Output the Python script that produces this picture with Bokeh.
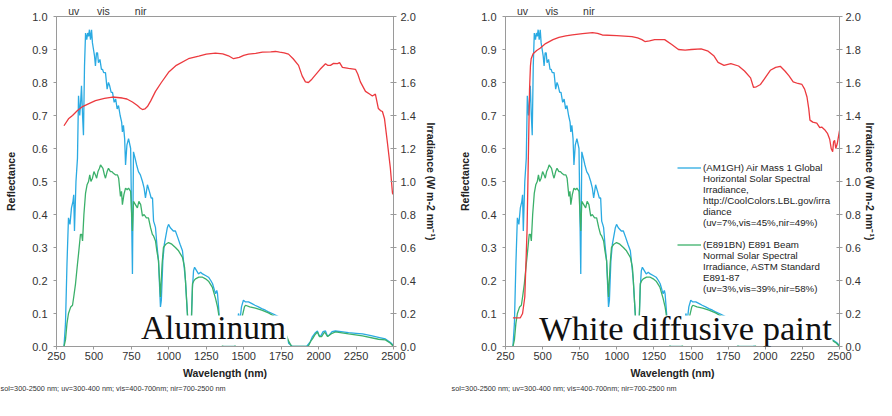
from bokeh.plotting import figure
from bokeh.models import (Range1d, LinearAxis, FixedTicker, Legend, LegendItem, Label,
                          BoxAnnotation, Title, NumeralTickFormatter)
from bokeh.layouts import row
from bokeh.embed import file_html
from bokeh.resources import INLINE

# ---------------- data ----------------
X_TICKS = [250, 500, 750, 1000, 1250, 1500, 1750, 2000, 2250, 2500]
REFL_TICKS = [0.0, 0.1, 0.2, 0.3, 0.4, 0.5, 0.6, 0.7, 0.8, 0.9, 1.0]
IRR_TICKS = [0.0, 0.2, 0.4, 0.6, 0.8, 1.0, 1.2, 1.4, 1.6, 1.8, 2.0]
BAND_POS = [365, 563, 812]
BAND_NAMES = ["uv", "vis", "nir"]

# AM1GH: Air Mass 1 Global Horizontal solar spectral irradiance (W m-2 nm-1)
AM1GH_WL = [300, 310, 320, 330, 340, 350, 360, 365, 370, 380, 390, 397, 405, 410, 417, 424, 430, 437,
            444, 452, 458, 464, 470, 477, 484, 490, 497, 504, 510, 517, 524, 530, 540, 550, 557, 565,
            577, 588, 597, 605, 615, 624, 635, 645, 655, 664, 675, 685, 690, 697, 705, 711, 720, 731,
            745, 757, 764, 775, 785, 797, 810, 824, 835, 844, 857, 870, 882, 891, 898, 905, 911, 920,
            931, 944, 950, 960, 970, 978, 990, 998, 1010, 1030, 1044, 1060, 1075, 1091, 1098, 1111,
            1120, 1130, 1140, 1150, 1158, 1165, 1172, 1185, 1198, 1212, 1225, 1245, 1265, 1280, 1292,
            1305, 1312, 1320, 1325, 1332, 1345, 1360, 1440, 1455, 1465, 1475, 1485, 1498, 1512, 1532,
            1555, 1575, 1598, 1620, 1645, 1665, 1690, 1712, 1735, 1759, 1779, 1800, 1825, 1920, 1945,
            1959, 1975, 1992, 2002, 2012, 2030, 2046, 2056, 2066, 2090, 2112, 2150, 2200, 2250, 2293,
            2350, 2400, 2446, 2480, 2500]
AM1GH_IRR = [0.0, 0.14, 0.50, 0.78, 0.74, 0.84, 0.88, 0.92, 0.70, 1.00, 1.14, 1.52, 1.40, 1.46, 1.58,
             1.40, 1.28, 1.70, 1.90, 1.86, 1.90, 1.88, 1.92, 1.86, 1.92, 1.84, 1.80, 1.76, 1.70, 1.78,
             1.78, 1.72, 1.74, 1.68, 1.68, 1.66, 1.66, 1.56, 1.60, 1.58, 1.54, 1.54, 1.48, 1.50, 1.44,
             1.46, 1.40, 1.36, 1.30, 1.34, 1.26, 1.10, 1.22, 1.26, 1.20, 0.44, 1.18, 1.14, 1.10, 1.06,
             1.04, 1.00, 0.96, 0.90, 0.98, 0.94, 0.90, 0.90, 0.76, 0.74, 0.72, 0.62, 0.52, 0.24, 0.28,
             0.52, 0.62, 0.66, 0.72, 0.74, 0.72, 0.70, 0.70, 0.66, 0.62, 0.58, 0.52, 0.40, 0.26, 0.12,
             0.04, 0.16, 0.36, 0.46, 0.48, 0.46, 0.44, 0.45, 0.44, 0.43, 0.42, 0.40, 0.38, 0.34, 0.32,
             0.34, 0.32, 0.24, 0.08, 0.0, 0.0, 0.10, 0.20, 0.16, 0.24, 0.28, 0.27, 0.27, 0.26, 0.25,
             0.24, 0.23, 0.22, 0.21, 0.20, 0.19, 0.18, 0.16, 0.08, 0.02, 0.0, 0.0, 0.03, 0.06, 0.08,
             0.094, 0.07, 0.06, 0.09, 0.094, 0.07, 0.064, 0.09, 0.094, 0.09, 0.084, 0.08, 0.076, 0.066,
             0.056, 0.046, 0.024, 0.006]

# E891BN: E891 Beam Normal solar spectral irradiance (W m-2 nm-1)
E891BN_WL = [300, 310, 320, 330, 345, 357, 365, 377, 390, 397, 410, 418, 424, 433, 444, 454, 464, 472,
             480, 490, 500, 510, 518, 527, 537, 544, 552, 560, 570, 577, 588, 597, 610, 620, 630, 645,
             657, 665, 677, 684, 690, 700, 711, 722, 731, 745, 757, 764, 777, 790, 800, 812, 824, 835,
             850, 864, 878, 890, 898, 911, 920, 931, 944, 955, 964, 980, 998, 1020, 1044, 1065, 1091,
             1105, 1111, 1120, 1130, 1140, 1150, 1158, 1168, 1178, 1200, 1225, 1245, 1265, 1290, 1312,
             1325, 1332, 1345, 1360, 1440, 1465, 1485, 1492, 1505, 1512, 1540, 1578, 1620, 1665, 1710,
             1759, 1780, 1799, 1820, 1930, 1950, 1959, 1975, 1992, 2005, 2020, 2040, 2060, 2090, 2112,
             2200, 2293, 2400, 2446, 2480, 2500]
E891BN_IRR = [0.0, 0.04, 0.14, 0.20, 0.24, 0.25, 0.30, 0.38, 0.50, 0.56, 0.68, 0.68, 0.64, 0.80, 0.93,
              0.98, 1.00, 1.04, 1.00, 1.02, 1.06, 1.04, 1.02, 1.06, 1.08, 1.10, 1.09, 1.08, 1.04, 1.02,
              1.06, 1.08, 1.06, 1.06, 1.05, 1.04, 1.04, 1.02, 0.91, 0.94, 0.86, 0.92, 0.96, 0.95, 0.96,
              0.94, 0.70, 0.88, 0.86, 0.84, 0.88, 0.86, 0.79, 0.80, 0.78, 0.78, 0.72, 0.68, 0.67, 0.64,
              0.58, 0.52, 0.30, 0.50, 0.60, 0.62, 0.63, 0.62, 0.60, 0.58, 0.54, 0.48, 0.40, 0.26, 0.10,
              0.04, 0.12, 0.38, 0.40, 0.41, 0.42, 0.42, 0.41, 0.396, 0.36, 0.29, 0.24, 0.20, 0.06, 0.0,
              0.0, 0.08, 0.14, 0.19, 0.24, 0.25, 0.24, 0.232, 0.22, 0.204, 0.18, 0.152, 0.08, 0.034,
              0.0, 0.0, 0.036, 0.046, 0.07, 0.088, 0.06, 0.06, 0.088, 0.06, 0.08, 0.088, 0.076, 0.064,
              0.044, 0.04, 0.02, 0.0]

# Reflectance of aluminum
ALU_WL = [300, 330, 357, 390, 424, 470, 510, 570, 624, 690, 720, 757, 790, 810, 824, 840, 857, 880,
          911, 950, 998, 1050, 1131, 1200, 1250, 1311, 1360, 1398, 1432, 1470, 1500, 1532, 1580, 1625,
          1680, 1712, 1740, 1770, 1799, 1830, 1866, 1890, 1912, 1932, 1955, 1979, 2010, 2046, 2060,
          2079, 2100, 2126, 2140, 2159, 2200, 2246, 2262, 2279, 2313, 2340, 2359, 2379, 2399, 2413,
          2426, 2440, 2459, 2479, 2493, 2500]
ALU_REFL = [0.669, 0.690, 0.700, 0.715, 0.727, 0.737, 0.745, 0.752, 0.756, 0.753, 0.750, 0.741, 0.730,
            0.722, 0.718, 0.720, 0.727, 0.745, 0.773, 0.800, 0.831, 0.852, 0.872, 0.880, 0.886, 0.889,
            0.887, 0.881, 0.872, 0.876, 0.882, 0.886, 0.888, 0.892, 0.893, 0.894, 0.892, 0.890, 0.886,
            0.872, 0.852, 0.820, 0.802, 0.800, 0.810, 0.823, 0.840, 0.857, 0.852, 0.852, 0.858, 0.857,
            0.860, 0.846, 0.843, 0.840, 0.825, 0.802, 0.773, 0.765, 0.759, 0.765, 0.721, 0.715, 0.712,
            0.690, 0.619, 0.541, 0.465, 0.460]

# Reflectance of white diffusive paint
WHITE_WL = [300, 350, 365, 380, 395, 405, 412, 418, 423, 436, 460, 483, 520, 570, 610, 656, 700, 769,
            836, 870, 902, 1000, 1102, 1140, 1169, 1189, 1220, 1255, 1322, 1370, 1415, 1460, 1502,
            1568, 1615, 1655, 1682, 1722, 1768, 1820, 1860, 1901, 1921, 1940, 1968, 2000, 2034, 2070,
            2101, 2134, 2160, 2188, 2220, 2247, 2265, 2281, 2293, 2301, 2320, 2347, 2367, 2380, 2400,
            2420, 2434, 2444, 2454, 2460, 2467, 2475, 2485, 2500]
WHITE_REFL = [0.087, 0.087, 0.10, 0.15, 0.35, 0.60, 0.78, 0.85, 0.872, 0.887, 0.897, 0.904, 0.918,
              0.930, 0.937, 0.941, 0.944, 0.948, 0.951, 0.949, 0.944, 0.942, 0.939, 0.935, 0.930, 0.924,
              0.926, 0.930, 0.930, 0.915, 0.900, 0.898, 0.900, 0.902, 0.895, 0.880, 0.861, 0.852, 0.857,
              0.850, 0.835, 0.814, 0.785, 0.787, 0.794, 0.815, 0.837, 0.846, 0.849, 0.834, 0.820, 0.802,
              0.797, 0.794, 0.780, 0.756, 0.720, 0.686, 0.680, 0.677, 0.663, 0.665, 0.657, 0.645, 0.628,
              0.600, 0.590, 0.620, 0.625, 0.600, 0.615, 0.654]

LEGEND_AM1GH = ["(AM1GH) Air Mass 1 Global", "Horizontal Solar Spectral", "Irradiance,",
                "http://CoolColors.LBL.gov/irra", "diance", "(uv=7%,vis=45%,nir=49%)"]
LEGEND_E891BN = ["(E891BN) E891 Beam", "Normal Solar Spectral", "Irradiance, ASTM Standard",
                 "E891-87", "(uv=3%,vis=39%,nir=58%)"]
FOOTNOTE = "sol=300-2500 nm; uv=300-400 nm; vis=400-700nm; nir=700-2500 nm"

# ---------------- style ----------------
BLUE = "#2AAAE2"
GREEN = "#3BB06A"
RED = "#EC3A3F"
SANS = "Liberation Sans"
SERIF = "Liberation Serif"
AXIS_GRAY = "#9a9a9a"
TICK_TEXT = "#333333"
FRAME_H = 330


def style_axis(ax):
    ax.axis_line_color = AXIS_GRAY
    ax.major_tick_line_color = AXIS_GRAY
    ax.minor_tick_line_color = None
    ax.major_label_text_font = SANS
    ax.major_label_text_font_size = "11px"
    ax.major_label_text_color = TICK_TEXT
    ax.axis_label_text_font = SANS
    ax.axis_label_text_font_style = "bold"
    ax.axis_label_text_font_size = "10.5px"
    ax.axis_label_text_color = "#222222"


def make_chart(frame_w, border_left, border_right, ya_standoff, ra_label_standoff,
               ra_axis_standoff, refl_wl, refl_vals, name, name_size, footnote_offset, mask,
               name_x, legend_x, with_legend):
    p = figure(frame_width=frame_w, frame_height=FRAME_H, output_backend="svg",
               toolbar_location=None,
               x_range=Range1d(250, 2500), y_range=Range1d(0, 1),
               min_border_left=border_left, min_border_right=border_right,
               min_border_top=16, min_border_bottom=0)
    p.extra_y_ranges = {"irr": Range1d(0, 2)}
    p.xgrid.visible = False
    p.ygrid.visible = False
    p.outline_line_color = AXIS_GRAY
    p.background_fill_color = "white"
    p.border_fill_color = "white"

    xa = p.xaxis[0]
    xa.ticker = FixedTicker(ticks=X_TICKS)
    xa.axis_label = "Wavelength (nm)"
    style_axis(xa)
    xa.major_tick_in = 0
    xa.major_tick_out = 3
    xa.major_label_standoff = 2
    xa.axis_label_standoff = 4

    ya = p.yaxis[0]
    ya.ticker = FixedTicker(ticks=REFL_TICKS)
    ya.formatter = NumeralTickFormatter(format="0.0")
    ya.axis_label = "Reflectance"
    style_axis(ya)
    ya.major_tick_in = 0
    ya.major_tick_out = 3
    ya.major_label_standoff = 6
    ya.axis_label_standoff = ya_standoff

    ra = LinearAxis(y_range_name="irr", ticker=FixedTicker(ticks=IRR_TICKS),
                    formatter=NumeralTickFormatter(format="0.0"),
                    axis_label="Irradiance (W m-2 nm\u207B\u00B9)")
    style_axis(ra)
    ra.major_tick_in = 3
    ra.major_tick_out = 3
    ra.major_label_standoff = ra_label_standoff
    ra.axis_label_standoff = ra_axis_standoff
    p.add_layout(ra, "right")

    ta = LinearAxis(ticker=FixedTicker(ticks=BAND_POS),
                    major_label_overrides={pos: nm for pos, nm in zip(BAND_POS, BAND_NAMES)})
    style_axis(ta)
    ta.axis_line_color = None
    ta.major_tick_line_color = None
    ta.major_tick_out = 0
    ta.major_tick_in = 0
    ta.major_label_standoff = 0
    ta.major_label_text_font_size = "10.5px"
    p.add_layout(ta, "above")

    r_blue = p.line(AM1GH_WL, AM1GH_IRR, y_range_name="irr", line_color=BLUE, line_width=1.3)
    r_green = p.line(E891BN_WL, E891BN_IRR, y_range_name="irr", line_color=GREEN, line_width=1.3)
    p.line(refl_wl, refl_vals, line_color=RED, line_width=1.3)

    # white box behind the sample name (hides the curves like the original)
    left, right, bottom, top = mask
    p.add_layout(BoxAnnotation(left=left, right=right, bottom=bottom, top=top,
                               left_units="screen", right_units="screen",
                               bottom_units="screen", top_units="screen",
                               fill_color="white", fill_alpha=1.0, line_color=None))
    p.add_layout(Label(x=name_x, y=19, x_units="screen", y_units="screen", text=name,
                       text_font=SERIF, text_font_size=name_size, text_color="#111111",
                       text_align="center", text_baseline="alphabetic"))

    if with_legend:
        items = [LegendItem(label=LEGEND_AM1GH[0], renderers=[r_blue])]
        items += [LegendItem(label=t, renderers=[]) for t in LEGEND_AM1GH[1:]]
        items += [LegendItem(label=" ", renderers=[])]
        items += [LegendItem(label=LEGEND_E891BN[0], renderers=[r_green])]
        items += [LegendItem(label=t, renderers=[]) for t in LEGEND_E891BN[1:]]
        leg = Legend(items=items, location=(legend_x, 52), orientation="vertical",
                     glyph_width=24, glyph_height=11, label_height=11, label_standoff=2,
                     spacing=0, padding=0, margin=0,
                     label_text_font=SANS, label_text_font_size="9.7px",
                     label_text_color="#222222", border_line_alpha=0,
                     background_fill_alpha=0)
        p.add_layout(leg, "center")

    t = Title(text=FOOTNOTE, align="left", text_font=SANS, text_font_size="7.3px",
              text_font_style="normal", text_color="#333333", offset=footnote_offset,
              standoff=0)
    p.add_layout(t, "below")
    return p


p_left = make_chart(337, 56, 40, 12, 4, 6, ALU_WL, ALU_REFL, "Aluminum", "33.5px", -56,
                    (82, 231, 1, 31), 157, 0, False)
p_right = make_chart(334, 66, 36, 7, 3, 0, WHITE_WL, WHITE_REFL, "White diffusive paint", "34.5px",
                     -54, (29, 327, 1, 31), 180, 172, True)

layout = row(p_left, p_right)
open("out.html", "w").write(file_html(layout, INLINE))
